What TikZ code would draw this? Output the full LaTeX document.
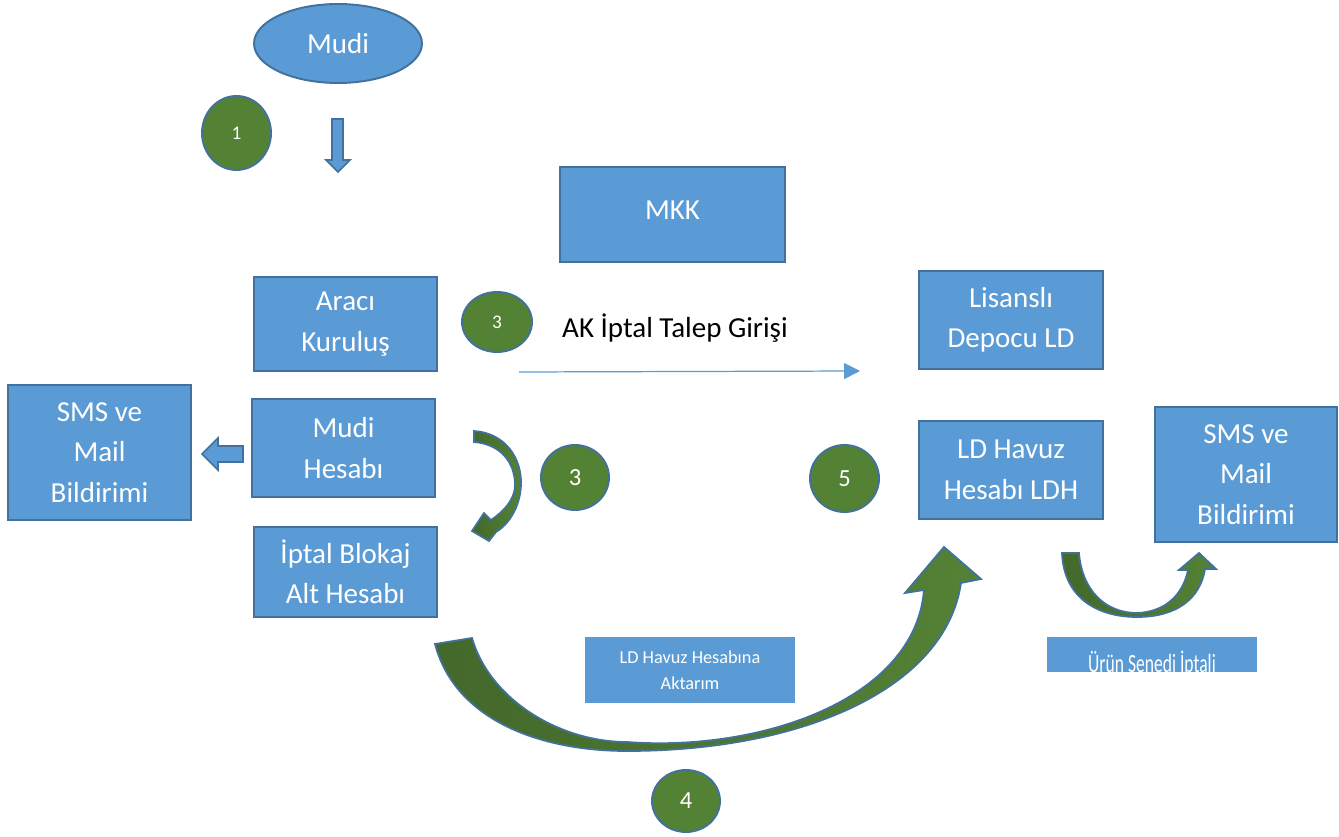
\documentclass[tikz,border=0pt]{standalone}
\usepackage{fontspec}
\setmainfont{Carlito}
\usetikzlibrary{positioning}
\usetikzlibrary{shapes.geometric}
\usetikzlibrary{arrows.meta}

\definecolor{boxblue}{HTML}{5B9BD5}
\definecolor{edgeblue}{HTML}{41719C}
\definecolor{stepgreen}{HTML}{548235}
\definecolor{darkgreen}{HTML}{43682B}

\begin{document}
\begin{tikzpicture}[x=0.02cm,y=-0.02cm,
 box/.style={rectangle,fill=boxblue,draw=edgeblue,line width=0.9pt,text=white,align=center,inner sep=0pt,font=\fontsize{16.5}{23}\selectfont},
 flatbox/.style={rectangle,fill=boxblue,text=white,align=center,inner sep=0pt},
 stepdot/.style={ellipse,fill=stepgreen,draw=edgeblue,line width=1.1pt,text=white,inner sep=0pt},
 bendarrow/.style={draw=edgeblue,line width=1pt,left color=darkgreen,right color=stepgreen},
 blockarrow/.style={fill=boxblue,draw=edgeblue,line width=0.9pt}]
 \useasboundingbox (0,0) rectangle (1339,837);
 \node[ellipse,fill=boxblue,draw=edgeblue,line width=1.1pt,text=white,inner sep=0pt,minimum width=3.36cm,minimum height=1.58cm,font=\fontsize{16.5}{23}\selectfont] (mudi) at (338,43.5) {Mudi};
 \node[stepdot,minimum width=1.38cm,minimum height=1.48cm,font=\fontsize{11}{13}\selectfont] (one) at (236.5,133) {1};
 \draw[blockarrow](332,119)--(343,119)--(343,160)--(350,160)--(338,172)--(326,160)--(332,160)--cycle;
 \node[box,minimum width=4.5cm,minimum height=1.9cm] (mkk) at (672.5,214.5) {\raisebox{5pt}{MKK}};
 \node[box,minimum width=3.66cm,minimum height=1.88cm] (araci) at (345.5,324) {Aracı\\Kuruluş};
 \node[stepdot,minimum width=1.4cm,minimum height=1.2cm,font=\fontsize{11}{13}\selectfont] (threetop) at (497,322) {3};
 \node[anchor=base,font=\fontsize{16.5}{23}\selectfont] (talep) at (675,338) {AK İptal Talep Girişi};
 \coordinate (talepstart) at (519,372);
 \coordinate (talepend) at (860,371);
 \draw[boxblue,line width=0.7pt,-{Triangle[length=9pt,width=9pt]}] (talepstart) -- (talepend);
 \node[box,minimum width=3.68cm,minimum height=1.96cm] (depocu) at (1011,320) {Lisanslı\\Depocu LD};
 \node[box,minimum width=3.66cm,minimum height=2.7cm] (smsleft) at (99.5,452.5) {SMS ve\\Mail\\Bildirimi};
 \draw[blockarrow](243,446)--(218,446)--(218,438)--(202,454)--(218,470)--(218,462)--(243,462)--cycle;
 \node[box,minimum width=3.66cm,minimum height=1.96cm] (hesap) at (343.5,448) {Mudi\\Hesabı};
 \draw[bendarrow](474,431) .. controls (505,433) and (522,458) .. (521,485) .. controls (520,508) and (508,525) .. (496,532)--(489,541)--(472,531)--(484,513)--(491,520) .. controls (503,512) and (515,500) .. (515,485) .. controls (515,462) and (500,444) .. (474,442)--cycle;
 \node[stepdot,minimum width=1.36cm,minimum height=1.3cm,font=\fontsize{14}{16}\selectfont] (threemid) at (575,477.5) {3};
 \node[stepdot,minimum width=1.38cm,minimum height=1.34cm,font=\fontsize{14}{16}\selectfont] (five) at (844.5,478.5) {5};
 \node[box,minimum width=3.68cm,minimum height=1.96cm] (havuz) at (1011,470) {LD Havuz\\Hesabı LDH};
 \node[box,minimum width=3.64cm,minimum height=2.7cm] (smsright) at (1246,474.5) {SMS ve\\Mail\\Bildirimi};
 \node[box,minimum width=3.66cm,minimum height=1.8cm] (blokaj) at (345.5,572) {İptal Blokaj\\Alt Hesabı};
 \draw[bendarrow](435,644) .. controls (455,720) and (540,751) .. (627,751) .. controls (800,751) and (945,690) .. (961,583)--(981,579)--(944,547)--(905,593)--(924,590) .. controls (915,700) and (760,752) .. (627,742) .. controls (560,742) and (490,700) .. (472,638)--cycle;
 \node[flatbox,minimum width=4.2cm,minimum height=1.32cm,font=\fontsize{10.4}{14.7}\selectfont] (aktarim) at (690,670) {LD Havuz Hesabına\\Aktarım};
 \node[stepdot,minimum width=1.36cm,minimum height=1.24cm,font=\fontsize{14}{16}\selectfont] (four) at (686,801) {4};
 \draw[bendarrow](1062,553) .. controls (1064,600) and (1100,617) .. (1137,617) .. controls (1175,617) and (1200,600) .. (1205,569)--(1216,569)--(1199,553)--(1179,570)--(1188,570) .. controls (1183,595) and (1165,612) .. (1137,613) .. controls (1105,613) and (1082,590) .. (1079,553)--cycle;
 \node[flatbox,minimum width=4.2cm,minimum height=0.7cm] (urun) at (1152,654.5) {};
 \begin{scope}
 \clip (urun.south west) rectangle (urun.north east);
 \node[anchor=base,text=white,inner sep=0pt,font=\fontsize{10}{12}\selectfont] (uruntext) at (1152,672) {\scalebox{1}[1.5]{Ürün Senedi İptali}};
 \end{scope}
\end{tikzpicture}
\end{document}
